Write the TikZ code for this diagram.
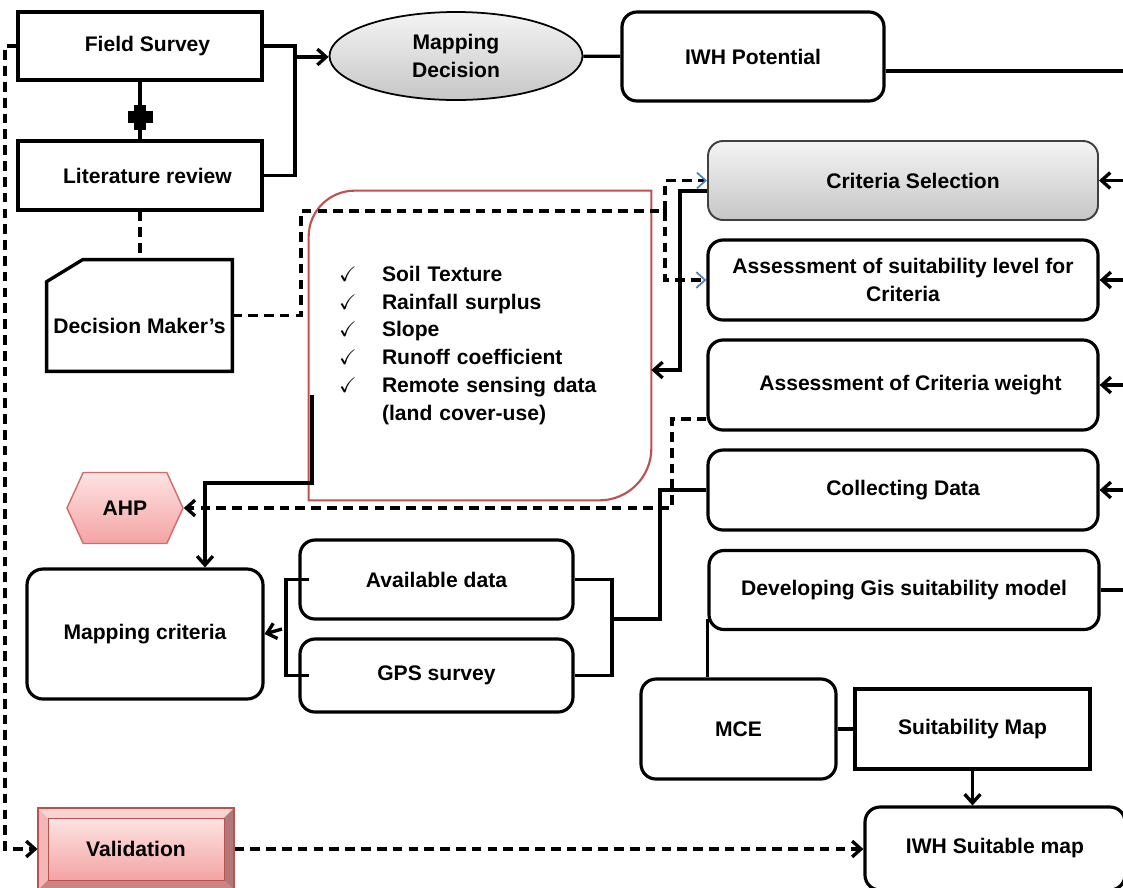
\documentclass[tikz,border=0pt]{standalone}
\usepackage{fontspec}
\setmainfont{Liberation Sans}
\usepackage{amssymb}
\usepackage{xcolor}
\usetikzlibrary{arrows.meta,shapes.geometric,shapes.symbols}

\definecolor{grayT}{HTML}{F4F4F4}
\definecolor{grayB}{HTML}{C6C6C6}
\definecolor{pinkT}{HTML}{FDE3E3}
\definecolor{pinkB}{HTML}{F4A3A3}
\definecolor{redline}{HTML}{C0504D}
\definecolor{ahpline}{HTML}{D46A6A}
\definecolor{tipblue}{HTML}{4F81BD}
\definecolor{bevtop}{HTML}{F9D2D2}
\definecolor{bevleft}{HTML}{F2B8B8}
\definecolor{bevright}{HTML}{B07878}
\definecolor{bevbot}{HTML}{C98484}

\newcommand{\chkmk}{\makebox[0.86cm][l]{\mdseries$\checkmark$}}

\tikzset{
  >={Straight Barb[length=5pt,width=9pt]},
  txt/.style={font=\bfseries\fontsize{12}{15.9}\selectfont, align=center},
  sbox/.style={txt, draw, line width=1.8pt, rectangle},
  rbox/.style={sbox, rounded corners=0.3cm},
  conn/.style={line width=1.9pt},
  dconn/.style={line width=1.9pt, dash pattern=on 5.5pt off 3.5pt},
  bluetip/.style={-{Straight Barb[length=5pt,width=9pt,color=tipblue,line width=1pt]}},
  valbox/.style={txt, minimum width=3.92cm, minimum height=1.64cm, fill=bevleft, draw=redline, line width=0.6pt,
    path picture={
      \fill[bevtop] (path picture bounding box.north west) -- (path picture bounding box.north east)
        -- ([shift={(-0.2,-0.2)}]path picture bounding box.north east) -- ([shift={(0.2,-0.2)}]path picture bounding box.north west) -- cycle;
      \fill[bevright] (path picture bounding box.north east) -- (path picture bounding box.south east)
        -- ([shift={(-0.2,0.2)}]path picture bounding box.south east) -- ([shift={(-0.2,-0.2)}]path picture bounding box.north east) -- cycle;
      \fill[bevbot] (path picture bounding box.south west) -- (path picture bounding box.south east)
        -- ([shift={(-0.2,0.2)}]path picture bounding box.south east) -- ([shift={(0.2,0.2)}]path picture bounding box.south west) -- cycle;
      \shadedraw[top color=pinkT, bottom color=pinkB, draw=redline, line width=0.5pt]
        ([shift={(0.2,-0.2)}]path picture bounding box.north west) rectangle ([shift={(-0.2,0.2)}]path picture bounding box.south east);
    }},
}

\begin{document}
\begin{tikzpicture}
\useasboundingbox (0,0) rectangle (22.46,-17.74);

\node[sbox, minimum width=4.88cm, minimum height=1.36cm] (fs) at (2.8,-0.92) {\hspace*{0.3cm}Field Survey};
\node[sbox, minimum width=4.88cm, minimum height=1.38cm] (lr) at (2.8,-3.51) {\hspace*{0.3cm}Literature review};
\node[txt, ellipse, draw, line width=1pt, top color=grayT, bottom color=grayB, minimum width=5.06cm, minimum height=1.76cm, inner sep=0pt] (md) at (9.12,-1.12) {Mapping\\Decision};
\node[rbox, minimum width=5.24cm, minimum height=1.78cm] (iwhp) at (15.06,-1.13) {IWH Potential};
\node[rbox, line width=1.1pt, draw=black!75, top color=grayT, bottom color=grayB, minimum width=7.8cm, minimum height=1.58cm] (cs) at (18.06,-3.61) {\hspace*{0.4cm}Criteria Selection};
\node[rbox, minimum width=7.8cm, minimum height=1.6cm] (asl) at (18.06,-5.6) {Assessment of suitability level for\\Criteria};
\node[rbox, minimum width=7.8cm, minimum height=1.8cm] (acw) at (18.06,-7.7) {\hspace*{0.3cm}Assessment of Criteria weight};
\node[rbox, minimum width=7.8cm, minimum height=1.6cm] (cd) at (18.06,-9.8) {Collecting Data};
\node[rbox, minimum width=7.8cm, minimum height=1.58cm] (dgis) at (18.08,-11.8) {Developing Gis suitability model};
\node[rbox, minimum width=3.9cm, minimum height=2cm] (mce) at (14.77,-14.58) {MCE};
\node[sbox, minimum width=4.7cm, minimum height=1.6cm] (smap) at (19.45,-14.58) {Suitability Map};
\node[rbox, minimum width=5.2cm, minimum height=1.66cm] (iwhs) at (19.9,-16.97) {IWH Suitable map};
\node[txt, signal, signal to=east and west, signal pointer angle=131, draw=ahpline, line width=0.8pt, top color=pinkT, bottom color=pinkB, minimum width=2.32cm, minimum height=1.42cm] (ahp) at (2.5,-10.16) {AHP};
\node[valbox] (val) at (2.72,-16.98) {Validation};
\node[rbox, rounded corners=0.32cm, minimum width=4.72cm, minimum height=2.6cm] (mc) at (2.9,-12.68) {Mapping criteria};
\node[rbox, minimum width=5.46cm, minimum height=1.58cm] (avd) at (8.73,-11.59) {Available data};
\node[rbox, minimum width=5.46cm, minimum height=1.46cm] (gps) at (8.73,-13.51) {GPS survey};

\node[txt, minimum width=3.7cm, minimum height=2.22cm, text height=0.8cm, text depth=0.08cm] (dm) at (2.79,-6.31) {Decision Maker’s};
\draw[conn] (dm.south west) -- ([yshift=-0.44cm]dm.north west) -- ([xshift=0.72cm]dm.north west) -- (dm.north east) -- (dm.south east) -- cycle;

\node[font=\bfseries\fontsize{12}{15.9}\selectfont, align=left, text width=5.64cm, minimum width=6.84cm, minimum height=6.18cm, inner sep=0.6cm] (chk) at (9.6,-6.91)
  {\chkmk Soil Texture\\ \chkmk Rainfall surplus\\ \chkmk Slope\\ \chkmk Runoff coefficient\\ \chkmk Remote sensing data\\ \hspace*{0.86cm}(land cover-use)};
\draw[draw=redline, line width=1.2pt] (chk.south west) -- ([yshift=-0.92cm]chk.north west) arc[start angle=180, end angle=90, radius=0.92cm]
  -- (chk.north east) -- ([yshift=1.04cm]chk.south east) arc[start angle=0, end angle=-90, radius=1.04cm] -- cycle;

\coordinate (redge) at (22.46,0);
\coordinate (ledge) at (0.1,0);
\coordinate (pl) at (2.8,-2.34);
\coordinate (fsj) at (5.9,-1.14);
\coordinate (dmj) at (6.02,-4.22);
\coordinate (dsplit) at (13.3,-4.22);
\coordinate (csj) at (13.6,-7.4);
\coordinate (acwj) at (13.44,-10.16);
\coordinate (chkout) at (6.24,-7.9);
\coordinate (mcj) at (4.1,-9.66);
\coordinate (cdj) at (13.2,-12.38);
\coordinate (rbr) at (12.24,-12.38);
\coordinate (lbr) at (5.72,-12.58);

\draw[conn] (fs) -- (lr);
\fill ([shift={(-0.25,-0.12)}]pl) rectangle ([shift={(0.25,0.12)}]pl);
\fill ([shift={(-0.12,-0.25)}]pl) rectangle ([shift={(0.12,0.25)}]pl);
\draw[conn] (fs.east) -| (fsj) |- (lr.east);
\draw[conn,->] (fsj) -- (fsj -| md.west);
\draw[conn] (md) -- (iwhp);
\draw[conn] ([yshift=-0.29cm]iwhp.east) -- ([yshift=-0.29cm]iwhp.east -| redge);
\foreach \n in {cs,asl,acw,cd}
  \draw[conn,<-] (\n.east) -- (\n.east -| redge);
\draw[conn] (dgis.east) -- (dgis.east -| redge);
\draw[conn] ([yshift=0.25cm]dgis.south west) -- (dgis.south west |- mce.north);
\draw[conn] (mce) -- (smap);
\draw[conn,->] (smap.south) -- (smap.south |- iwhs.north);
\draw[dconn,->] (val.east) -- (val.east -| iwhs.west);
\draw[dconn,->] (fs.west) -- (fs.west -| ledge) |- (val.west);
\draw[dconn] (lr.south) -- (lr.south |- dm.north);
\draw[dconn] (dm.east) -| (dmj) -- (dsplit);
\draw[dconn,bluetip] (dsplit) |- (cs.west);
\draw[dconn,bluetip] (dsplit) |- (asl.west);
\draw[conn,->] ([yshift=-0.21cm]cs.west) -| (csj) -- (csj -| chk.east);
\draw[dconn,->] ([yshift=-0.68cm]acw.west) -| (acwj) -- (ahp.east);
\draw[conn,->] (chkout) |- (mcj) -- (mcj |- mc.north);
\draw[conn] (cd.west) -| (cdj) -- (rbr);
\draw[conn] (avd.east) -| (rbr) |- (gps.east);
\draw[conn] ([xshift=0.22cm]avd.west) -| (lbr) |- ([xshift=0.22cm]gps.west);
\draw[conn,->] ([xshift=-0.08cm]lbr) -- (mc.east);
\end{tikzpicture}
\end{document}
